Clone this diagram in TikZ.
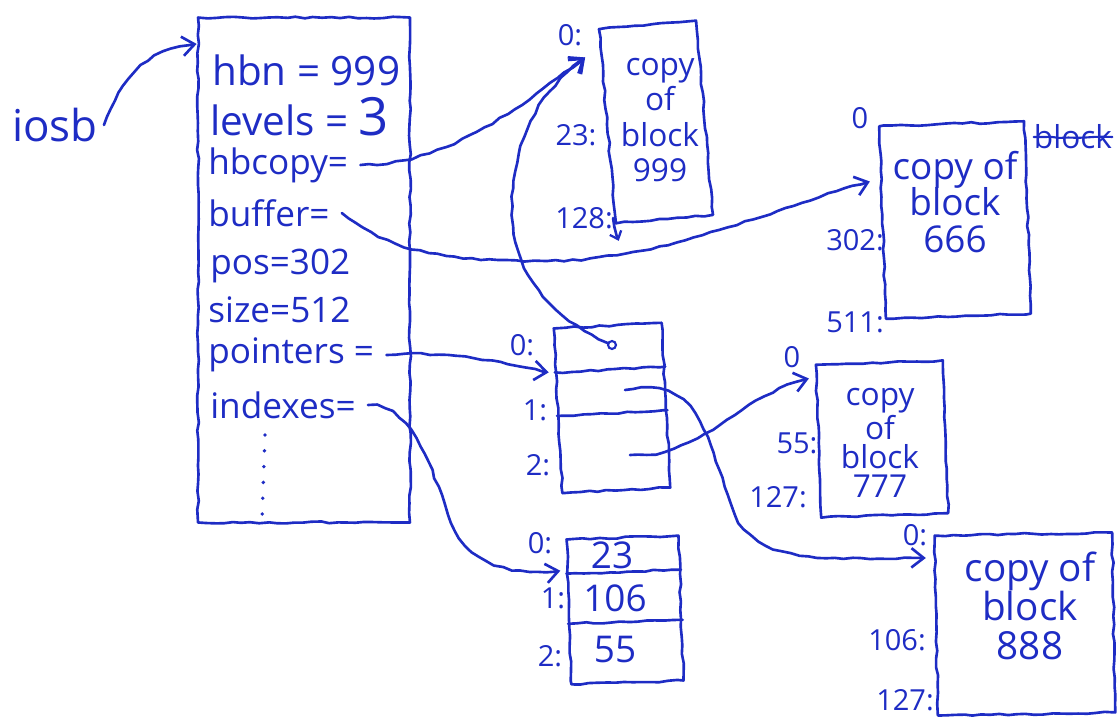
\documentclass[tikz,border=0pt]{standalone}
\usepackage{fontspec}
\setmainfont{Open Sans}
\usepackage{tikz}
\usetikzlibrary{decorations.pathmorphing,arrows.meta,calc}
\definecolor{ink}{RGB}{30,44,196}
\tikzset{
  sk/.style={decorate,decoration={random steps,segment length=5pt,
        amplitude=.55pt},line width=1.5pt,line cap=round,line join=round,draw=ink},
  skarrow/.style={sk,-{Straight Barb[length=7pt,width=11pt,line width=1.5pt]}},
  memBox/.style={sk,inner sep=0pt},
  fld/.style={anchor=west,inner sep=0pt,font=\fontsize{20}{22}\selectfont},
  bigFld/.style={fld,font=\fontsize{23}{24}\selectfont},
  blkTxt/.style={align=center,inner sep=0pt},
  offLbl/.style={inner sep=0pt,font=\fontsize{16.5}{17}\selectfont},
  cell/.style={inner sep=0pt,font=\fontsize{21}{21}\selectfont},
}

\begin{document}
\begin{tikzpicture}[x=0.02cm,y=-0.02cm,color=ink]
\useasboundingbox (0,0) rectangle (1118,719);

% the iosb record
\node[font=\fontsize{25}{25}\selectfont] (iosb) at (55,125) {iosb};
\node[memBox,minimum width=4.24cm,minimum height=10.1cm] (rec) at (304,270) {};
\node[bigFld] (hbn)      at (212,70)  {hbn = 999};
\node[bigFld] (levels)   at (210,117) {levels = \fontsize{30}{30}\selectfont 3};
\node[fld]    (hbcopy)   at (208,165) {hbcopy=};
\node[fld]    (buffer)   at (208,213) {buffer=};
\node[fld]    (pos)      at (210,266) {pos=302};
\node[fld]    (size)     at (208,310) {size=512};
\node[fld]    (pointers) at (208,355) {pointers =};
\node[fld]    (indexes)  at (210,405) {indexes=};
\draw[line width=2.2pt,line cap=round,dash pattern=on 0pt off 9pt] (265,435) -- (262,520);

% block copies
\node[memBox,minimum width=1.95cm,minimum height=3.9cm,rotate=5] (b999) at (656,122) {};
\node[blkTxt,font=\fontsize{18}{20}\selectfont] at (660,120) {copy\\of\\block\\999};
\node[offLbl] (l0a)   at (570,35)  {0:};
\node[offLbl] (l23)   at (576,135) {23:};
\node[offLbl] (l128)  at (584,218) {128:};

\node[memBox,minimum width=2.9cm,minimum height=3.85cm,rotate=2] (b666) at (955,220) {};
\node[blkTxt,font=\fontsize{21}{21}\selectfont] at (955,202) {copy of\\block\\666};
\node[offLbl] (l0b)   at (860,118) {0};
\node[offLbl] (l302)  at (855,240) {302:};
\node[offLbl] (l511)  at (855,322) {511:};
\node[offLbl,font=\fontsize{18}{18}\selectfont] (xblock) at (1073,137) {block};
\draw[sk,line width=1.2pt] (xblock.west) -- (xblock.east);

\node[memBox,minimum width=2.54cm,minimum height=3.06cm,rotate=2] (b777) at (882,439) {};
\node[blkTxt,font=\fontsize{18}{16.5}\selectfont] at (880,443) {copy\\of\\block\\777};
\node[offLbl] (l0c)   at (792,357) {0};
\node[offLbl] (l55)   at (797,443) {55:};
\node[offLbl] (l127a) at (778,497) {127:};

\node[memBox,minimum width=3.55cm,minimum height=3.6cm,rotate=1] (b888) at (1025,624) {};
\node[blkTxt,font=\fontsize{22}{22}\selectfont] at (1030,606) {copy of\\block\\888};
\node[offLbl] (l0d)   at (915,535) {0:};
\node[offLbl] (l106)  at (897,640) {106:};
\node[offLbl] (l127b) at (905,700) {127:};

% pointers array
\node[memBox,minimum width=2.16cm,minimum height=3.3cm,rotate=3] (ptr) at (612,408) {};
\draw[sk] ($(ptr.north west)!.27!(ptr.south west)$) -- ($(ptr.north east)!.27!(ptr.south east)$);
\draw[sk] ($(ptr.north west)!.53!(ptr.south west)$) -- ($(ptr.north east)!.53!(ptr.south east)$);
\node[offLbl] (p0l) at (522,345) {0:};
\node[offLbl] (p1l) at (535,410) {1:};
\node[offLbl] (p2l) at (538,465) {2:};
\node[circle,draw,line width=1.2pt,inner sep=1.6pt] (pdot) at (612,345) {};
\coordinate (p1) at (625,390);
\coordinate (p2) at (630,455);

% indexes array
\node[memBox,minimum width=2.24cm,minimum height=2.9cm,rotate=2] (idx) at (625,610) {};
\draw[sk] ($(idx.north west)!.24!(idx.south west)$) -- ($(idx.north east)!.24!(idx.south east)$);
\draw[sk] ($(idx.north west)!.58!(idx.south west)$) -- ($(idx.north east)!.58!(idx.south east)$);
\node[cell] (i0) at (612,555) {23};
\node[cell] (i1) at (615,598) {106};
\node[cell] (i2) at (615,650) {55};
\node[offLbl] (i0l) at (540,543) {0:};
\node[offLbl] (i1l) at (553,598) {1:};
\node[offLbl] (i2l) at (550,656) {2:};

% where the arrows land
\coordinate (in999) at ($(b999.north west)!.15!(b999.south west)+(-15,0)$);
\coordinate (in666) at ($(b666.north west)!.29!(b666.south west)+(-10,0)$);
\coordinate (in777) at ($(b777.north west)!.1!(b777.south west)+(-6,0)$);
\coordinate (in888) at ($(b888.north west)!.13!(b888.south west)+(-8,0)$);
\coordinate (inptr) at ($(ptr.north west)!.27!(ptr.south west)+(-6,0)$);
\coordinate (inidx) at ($(idx.north west)!.22!(idx.south west)+(-6,0)$);

\draw[skarrow] (iosb.east) .. controls +(20,-55) and +(-45,5) .. ($(rec.north west)!.055!(rec.south west)$);
\draw[skarrow] ($(hbcopy.east)+(12,0)$) .. controls +(90,0) and +(-60,45) .. (in999);
\draw[skarrow] (pdot) .. controls +(-55,-25) and +(0,60) .. ++(-100,-130)
      .. controls +(0,-80) and +(-45,35) .. (in999);
\draw[skarrow] ($(buffer.east)+(12,0)$) .. controls +(50,40) and +(-100,0) .. ++(205,48)
      .. controls +(120,0) and +(-80,20) .. (in666);
\draw[skarrow] ($(pointers.east)+(12,0)$) .. controls +(60,-5) and +(-50,-10) .. (inptr);
\draw[skarrow] ($(indexes.east)+(12,0)$) .. controls +(40,0) and +(-20,-60) .. ++(80,110)
      .. controls +(20,55) and +(-40,5) .. (inidx);
\draw[skarrow] (p2) .. controls +(70,5) and +(-70,15) .. (in777);
\draw[skarrow] (p1) .. controls +(75,-15) and +(-30,-80) .. ++(110,125)
      .. controls +(25,50) and +(-100,0) .. (in888);
\draw[skarrow,-{Straight Barb[length=4pt,width=7pt,line width=1.3pt]}] (l128.east) -- ($(b999.south west)+(4,16)$);
\end{tikzpicture}
\end{document}
